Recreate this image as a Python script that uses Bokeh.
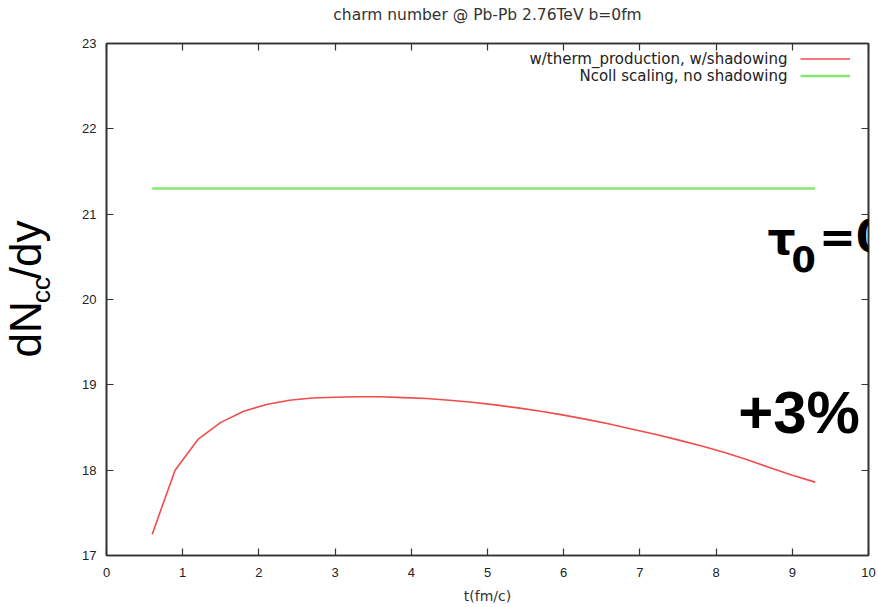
import math
from bokeh.plotting import figure
from bokeh.layouts import row, column
from bokeh.models import Label, Legend, LegendItem, LinearAxis, Range1d, FixedTicker
from bokeh.embed import file_html
from bokeh.resources import INLINE

# ---------------- data ----------------
title_text = "charm number @ Pb-Pb 2.76TeV b=0fm"
x_label = "t(fm/c)"
legend_labels = ["w/therm_production, w/shadowing", "Ncoll scaling, no shadowing"]

t_therm = [0.6, 0.9, 1.2, 1.5, 1.8, 2.1, 2.4, 2.7, 3.0, 3.3,
           3.6, 3.9, 4.2, 4.5, 4.8, 5.1, 5.4, 5.7, 6.0, 6.3,
           6.6, 6.9, 7.2, 7.5, 7.8, 8.1, 8.4, 8.7, 9.0, 9.3]
n_therm = [17.25, 18.00, 18.36, 18.56, 18.69, 18.77, 18.82, 18.845, 18.855, 18.86,
           18.86, 18.85, 18.84, 18.82, 18.795, 18.765, 18.73, 18.69, 18.645, 18.595,
           18.54, 18.48, 18.42, 18.355, 18.285, 18.21, 18.125, 18.03, 17.94, 17.86]

t_ncoll = [0.6, 9.3]
n_ncoll = [21.3, 21.3]

x_ticks = [0, 1, 2, 3, 4, 5, 6, 7, 8, 9, 10]
y_ticks = [17, 18, 19, 20, 21, 22, 23]

def blank_figure(w, h):
    f = figure(width=w, height=h, output_backend="svg", toolbar_location=None,
               x_range=Range1d(0, w), y_range=Range1d(0, h),
               x_axis_location=None, y_axis_location=None,
               min_border_left=0, min_border_right=0, min_border_top=0, min_border_bottom=0)
    f.grid.visible = False
    f.outline_line_color = None
    f.background_fill_color = "white"
    f.border_fill_color = "white"
    return f

# ---------------- title strip (top) ----------------
head = blank_figure(878, 25)
head.add_layout(Label(x=487, y=11, text=title_text, text_align="center", text_baseline="middle",
                      text_font="DejaVu Sans", text_font_size="15.5px", text_color="#333333"))

# ---------------- y-label strip (left) ----------------
side = blank_figure(60, 582)
ang = math.pi / 2
side.add_layout(Label(x=25, y=225, text="dN", angle=ang, text_baseline="middle",
                      text_font="Liberation Sans", text_font_size="44px", text_color="black"))
side.add_layout(Label(x=40, y=287, text="cc", angle=ang, text_baseline="middle",
                      text_font="Liberation Sans", text_font_size="26px", text_color="black"))
side.add_layout(Label(x=25, y=314, text="/dy", angle=ang, text_baseline="middle",
                      text_font="Liberation Sans", text_font_size="44px", text_color="black"))

# ---------------- main figure ----------------
p = figure(width=818, height=582, output_backend="svg", toolbar_location=None,
           x_range=Range1d(0, 10), y_range=Range1d(17, 23),
           min_border_left=46, min_border_right=10, min_border_top=18, min_border_bottom=52)
p.background_fill_color = "white"
p.border_fill_color = "white"
p.grid.visible = False
p.outline_line_color = "#333333"
p.outline_line_width = 1.6

bottom_ax = p.below[0]
left_ax = p.left[0]
top_ax = LinearAxis()
right_ax = LinearAxis()
p.add_layout(top_ax, "above")
p.add_layout(right_ax, "right")

def style_axis(ax, ticks, show_labels, standoff=10):
    ax.ticker = FixedTicker(ticks=ticks)
    ax.major_tick_in = 7
    ax.major_tick_out = 0
    ax.minor_tick_line_color = None
    ax.axis_line_color = "#333333"
    ax.axis_line_width = 1.6
    ax.major_tick_line_color = "#333333"
    ax.major_tick_line_width = 1.2
    if show_labels:
        ax.major_label_text_font = "Liberation Sans"
        ax.major_label_text_font_size = "13px"
        ax.major_label_text_color = "#222222"
        ax.major_label_standoff = standoff
    else:
        ax.major_label_overrides = {t: "" for t in ticks}
        ax.major_label_standoff = 0

style_axis(bottom_ax, x_ticks, True, 12)
style_axis(left_ax, y_ticks, True, 10)
style_axis(top_ax, x_ticks, False)
style_axis(right_ax, y_ticks, False)

bottom_ax.axis_label = x_label
bottom_ax.axis_label_text_font = "DejaVu Sans"
bottom_ax.axis_label_text_font_size = "14px"
bottom_ax.axis_label_text_font_style = "normal"
bottom_ax.axis_label_text_color = "#333333"
bottom_ax.axis_label_standoff = 8

# ---------------- lines ----------------
r_red = p.line(t_therm, n_therm, line_color="#f24b4b", line_width=1.6)
r_green = p.line(t_ncoll, n_ncoll, line_color="#86e870", line_width=2.6)

# legend samples (gnuplot style: text on the left, sample on the right)
leg = Legend(items=[LegendItem(label=" ", renderers=[r_red]),
                    LegendItem(label=" ", renderers=[r_green])],
             location="top_right", glyph_width=50, glyph_height=17,
             label_height=17, label_width=0, label_standoff=11,
             padding=0, spacing=0, margin=7,
             border_line_color=None, background_fill_alpha=0,
             label_text_font_size="8px")
p.add_layout(leg)

for lbl, yy in zip(legend_labels, [22.824, 22.625]):
    p.add_layout(Label(x=8.937, y=yy, text=lbl, text_align="right", text_baseline="middle",
                       text_font="DejaVu Sans", text_font_size="15px", text_color="#222222"))

# ---------------- overlay annotations ----------------
p.add_layout(Label(x=8.675, y=20.72, text="τ", text_baseline="middle",
                   text_font="DejaVu Sans", text_font_style="bold", text_font_size="44px",
                   text_color="black"))
p.add_layout(Label(x=8.99, y=20.48, text="0", text_baseline="middle",
                   text_font="DejaVu Sans", text_font_style="bold", text_font_size="35px",
                   text_color="black"))
p.add_layout(Label(x=9.35, y=20.738, text="=0", text_baseline="middle",
                   text_font="DejaVu Sans", text_font_style="bold", text_font_size="44px",
                   text_color="black"))
p.add_layout(Label(x=8.29, y=18.676, text="+3%", text_baseline="middle",
                   text_font="Liberation Sans", text_font_style="bold", text_font_size="60px",
                   text_color="black"))

layout = column(head, row(side, p, spacing=0), spacing=0)
open("out.html", "w").write(file_html(layout, INLINE))
